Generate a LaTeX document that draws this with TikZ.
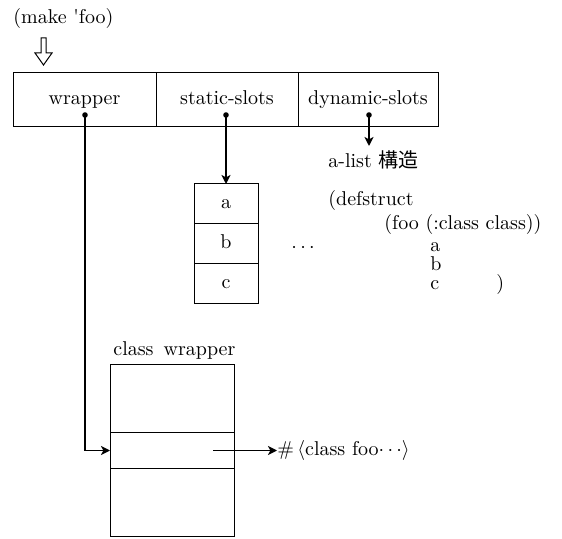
\documentclass[tikz,border=0pt]{standalone}
\usepackage{fontspec}
\newfontfamily\cjk{Noto Sans CJK JP}
\usetikzlibrary{arrows.meta}
\begin{document}
\begin{tikzpicture}[x=0.5pt,y=-0.5pt,
  cell/.style={draw,line width=0.5pt,inner sep=0pt,outer sep=0pt,anchor=north west,
    text height=6.9pt,text depth=1.9pt},
  ptr/.style={line width=0.9pt,-{Stealth[length=4.5pt,width=4.5pt,inset=1.2pt]}},
  txt/.style={inner sep=0pt,anchor=west},
  btxt/.style={inner sep=0pt,anchor=base west},
  dot/.style={fill=black}]
\useasboundingbox (0,0) rectangle (562,539);

% call and hollow arrow
\node[txt] (call) at (13,19) {(make \textquotesingle foo)};
\draw[line width=0.5pt,fill=white] (41,38) -- (46,38) -- (46,53) -- (52,53) -- (43.5,65)
  -- (35,53) -- (41,53) -- cycle;

% instance record
\node[cell,minimum width=71.5pt,minimum height=27pt] (wrapper) at (13,73) {wrapper};
\node[cell,minimum width=71pt,minimum height=27pt] (static) at (156,73) {static-slots};
\node[cell,minimum width=70pt,minimum height=27pt] (dynamic) at (298,73) {dynamic-slots};
\coordinate (wd) at (85,115);
\coordinate (sd) at (226,115);
\coordinate (dd) at (369,115);
\fill[dot] (wd) circle (1.4pt);
\fill[dot] (sd) circle (1.4pt);
\fill[dot] (dd) circle (1.4pt);

% static slot vector
\node[cell,minimum width=32pt,minimum height=20pt] (sa) at (194,184) {a};
\node[cell,minimum width=32pt,minimum height=20pt] (sb) at (194,224) {b};
\node[cell,minimum width=32pt,minimum height=20pt] (sc) at (194,264) {c};
\node[txt] (more) at (291,248) {$\cdots$};

% dynamic slots
\coordinate (dtip) at (369,146);
\node[btxt] (alist) at (328,168) {a-list {\cjk 構造}};
\node[btxt] (ds1) at (328,206) {(defstruct};
\node[btxt] (ds2) at (384,230) {(foo (:class class))};
\node[btxt] (dsa) at (430,252) {a};
\node[btxt] (dsb) at (430,271) {b};
\node[btxt] (dsc) at (430,290) {c};
\node[btxt] (dse) at (496,290) {)};

% class wrapper
\node[txt] (cwlabel) at (113,351) {class\enspace wrapper};
\node[cell,minimum width=62pt,minimum height=34pt] (cw1) at (110,365) {};
\node[cell,minimum width=62pt,minimum height=17.5pt] (cw2) at (110,433) {};
\node[cell,minimum width=62pt,minimum height=34pt] (cw3) at (110,468) {};
\coordinate (cd) at (213,450.5);
\node[txt] (cfoo) at (277,450.5) {\#\,$\langle$class foo$\cdots\rangle$};

% pointers
\draw[ptr] (wd) |- (cw2.west);
\draw[ptr] (sd) -- (sa.north);
\draw[ptr] (dd) -- (dtip);
\draw[ptr] (cd) -- (cfoo.west);
\end{tikzpicture}
\end{document}
